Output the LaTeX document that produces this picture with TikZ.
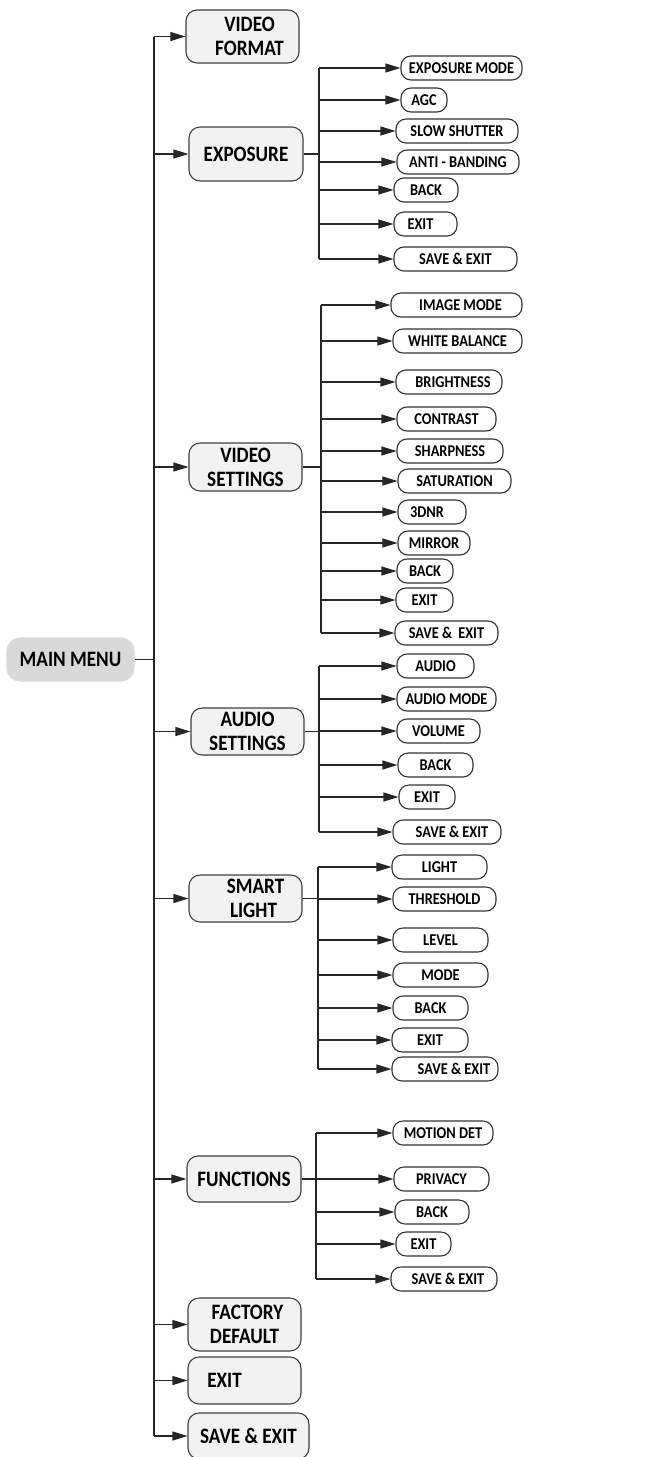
\documentclass[tikz,border=0pt]{standalone}
\usepackage{fontspec}
\newfontfamily\cf[FakeStretch=0.87]{Carlito}
\usetikzlibrary{arrows.meta}
\begin{document}
\begin{tikzpicture}[x=1pt,y=-1pt,
 ln/.style={draw=black!85, line width=1.1pt},
 arr/.style={ln, -{Triangle[length=15pt,width=9pt]}},
 mbox/.style={draw=black!75, fill=black!5, line width=1.1pt, rounded corners=11pt,
   font=\cf\bfseries\fontsize{22}{24}\selectfont, align=center, inner sep=0pt},
 sbox/.style={draw=black!80, fill=white, line width=1.1pt, rounded corners=10pt,
   font=\cf\bfseries\fontsize{16.5}{18}\selectfont, inner sep=0pt, minimum height=24pt},
]
\useasboundingbox (0,0) rectangle (662,1457);
\fill[white] (0,0) rectangle (662,1457);

% main boxes
\node[mbox, draw=black!15, fill=black!15, minimum width=127pt, minimum height=43pt, rounded corners=13pt] (mm) at (70.5,659.5) {MAIN MENU};
\node[mbox, minimum width=113pt, minimum height=53pt] (vf) at (242.5,36.5) {\hspace*{14pt}VIDEO\\\hspace*{14pt}FORMAT};
\node[mbox, minimum width=114pt, minimum height=54pt] (exp) at (246,154) {EXPOSURE};
\node[mbox, minimum width=113pt, minimum height=48pt] (vs) at (245.5,467) {VIDEO\\SETTINGS};
\node[mbox, minimum width=113pt, minimum height=47pt] (as) at (247.5,731.5) {AUDIO\\SETTINGS};
\node[mbox, minimum width=113pt, minimum height=47pt] (sl) at (245.5,898.5) {\hspace*{20pt}SMART\\\hspace*{16pt}LIGHT};
\node[mbox, minimum width=114pt, minimum height=46pt] (fn) at (244,1179) {FUNCTIONS};
\node[mbox, minimum width=113pt, minimum height=53pt] (fd) at (244.5,1324.5) {\hspace*{6pt}FACTORY\\DEFAULT};
\node[mbox, minimum width=113pt, minimum height=47pt] (mex) at (244.5,1380.5) {EXIT\hspace*{40pt}};
\node[mbox, minimum width=121pt, minimum height=46pt] (mse) at (248.5,1436) {SAVE \& EXIT};

% main trunk
\coordinate (tx) at (154,0);
\draw[ln] (mm.east) -- (tx |- mm);
\draw[ln] (tx |- vf) -- (tx |- mse);
\foreach \n in {vf,exp,vs,as,sl,fn,fd,mex,mse}
  \draw[arr] (tx |- \n) -- (\n.west);

% exposure group
\node[sbox, minimum width=121pt] (e1) at (461.5,68) {EXPOSURE MODE};
\node[sbox, minimum width=46pt] (e2) at (424,100) {AGC};
\node[sbox, minimum width=122pt] (e3) at (457,131) {SLOW SHUTTER};
\node[sbox, minimum width=122pt] (e4) at (458,162) {ANTI - BANDING};
\node[sbox, minimum width=64pt] (e5) at (426,190) {BACK};
\node[sbox, minimum width=63pt] (e6) at (425.5,224) {EXIT\hspace*{10pt}};
\node[sbox, minimum width=123pt] (e7) at (455.5,259) {SAVE \& EXIT};
\coordinate (ex) at (319,0);
\draw[ln] (exp.east) -- (ex |- exp);
\draw[ln] (ex |- e1) -- (ex |- e7);
\foreach \n in {e1,e2,e3,e4,e5,e6,e7}
  \draw[arr] (ex |- \n) -- (\n.west);

% video settings group
\node[sbox, minimum width=131pt] (v1) at (456.5,305) {\hspace*{8pt}IMAGE MODE};
\node[sbox, minimum width=129pt] (v2) at (457.5,341) {WHITE BALANCE};
\node[sbox, minimum width=106pt] (v3) at (449,382) {\hspace*{8pt}BRIGHTNESS};
\node[sbox, minimum width=99pt] (v4) at (446.5,419) {CONTRAST};
\node[sbox, minimum width=106pt] (v5) at (450,451) {SHARPNESS};
\node[sbox, minimum width=113pt] (v6) at (454.5,481) {SATURATION};
\node[sbox, minimum width=68pt] (v7) at (432,512) {3DNR\hspace*{10pt}};
\node[sbox, minimum width=72pt] (v8) at (434,543) {MIRROR};
\node[sbox, minimum width=56pt] (v9) at (425,571) {BACK};
\node[sbox, minimum width=57pt] (v10) at (424.5,600) {EXIT};
\node[sbox, minimum width=103pt] (v11) at (446.5,633) {SAVE \&\ \,EXIT};
\coordinate (vx) at (321,0);
\draw[ln] (vs.east) -- (vx |- vs);
\draw[ln] (vx |- v1) -- (vx |- v11);
\foreach \n in {v1,v2,v3,v4,v5,v6,v7,v8,v9,v10,v11}
  \draw[arr] (vx |- \n) -- (\n.west);

% audio group
\node[sbox, minimum width=77pt] (a1) at (435.5,666) {AUDIO};
\node[sbox, minimum width=99pt] (a2) at (446.5,699) {AUDIO MODE};
\node[sbox, minimum width=83pt] (a3) at (438.5,731) {VOLUME};
\node[sbox, minimum width=75pt] (a4) at (435.5,765) {BACK};
\node[sbox, minimum width=56pt] (a5) at (427,797) {EXIT};
\node[sbox, minimum width=108pt] (a6) at (447,832) {\hspace*{10pt}SAVE \& EXIT};
\coordinate (ax) at (319,0);
\draw[ln] (as.east) -- (ax |- as);
\draw[ln] (ax |- a1) -- (ax |- a6);
\foreach \n in {a1,a2,a3,a4,a5,a6}
  \draw[arr] (ax |- \n) -- (\n.west);

% smart light group
\node[sbox, minimum width=95pt] (s1) at (439.5,867) {LIGHT};
\node[sbox, minimum width=103pt] (s2) at (444.5,899) {THRESHOLD};
\node[sbox, minimum width=95pt] (s3) at (440.5,940) {LEVEL};
\node[sbox, minimum width=95pt] (s4) at (440.5,975) {MODE};
\node[sbox, minimum width=75pt] (s5) at (430.5,1008) {BACK};
\node[sbox, minimum width=76pt] (s6) at (430,1040) {EXIT};
\node[sbox, minimum width=106pt] (s7) at (445,1069) {\hspace*{18pt}SAVE \& EXIT};
\coordinate (sx) at (318,0);
\draw[ln] (sl.east) -- (sx |- sl);
\draw[ln] (sx |- s1) -- (sx |- s7);
\foreach \n in {s1,s2,s3,s4,s5,s6,s7}
  \draw[arr] (sx |- \n) -- (\n.west);

% functions group
\node[sbox, minimum width=100pt] (f1) at (443,1133) {MOTION DET};
\node[sbox, minimum width=95pt] (f2) at (441.5,1179) {PRIVACY};
\node[sbox, minimum width=74pt] (f3) at (432,1212) {BACK};
\node[sbox, minimum width=55pt] (f4) at (423.5,1244) {EXIT};
\node[sbox, minimum width=106pt] (f5) at (444,1279) {\hspace*{8pt}SAVE \& EXIT};
\coordinate (fx) at (316,0);
\draw[ln] (fn.east) -- (fx |- fn);
\draw[ln] (fx |- f1) -- (fx |- f5);
\foreach \n in {f1,f2,f3,f4,f5}
  \draw[arr] (fx |- \n) -- (\n.west);
\end{tikzpicture}
\end{document}
